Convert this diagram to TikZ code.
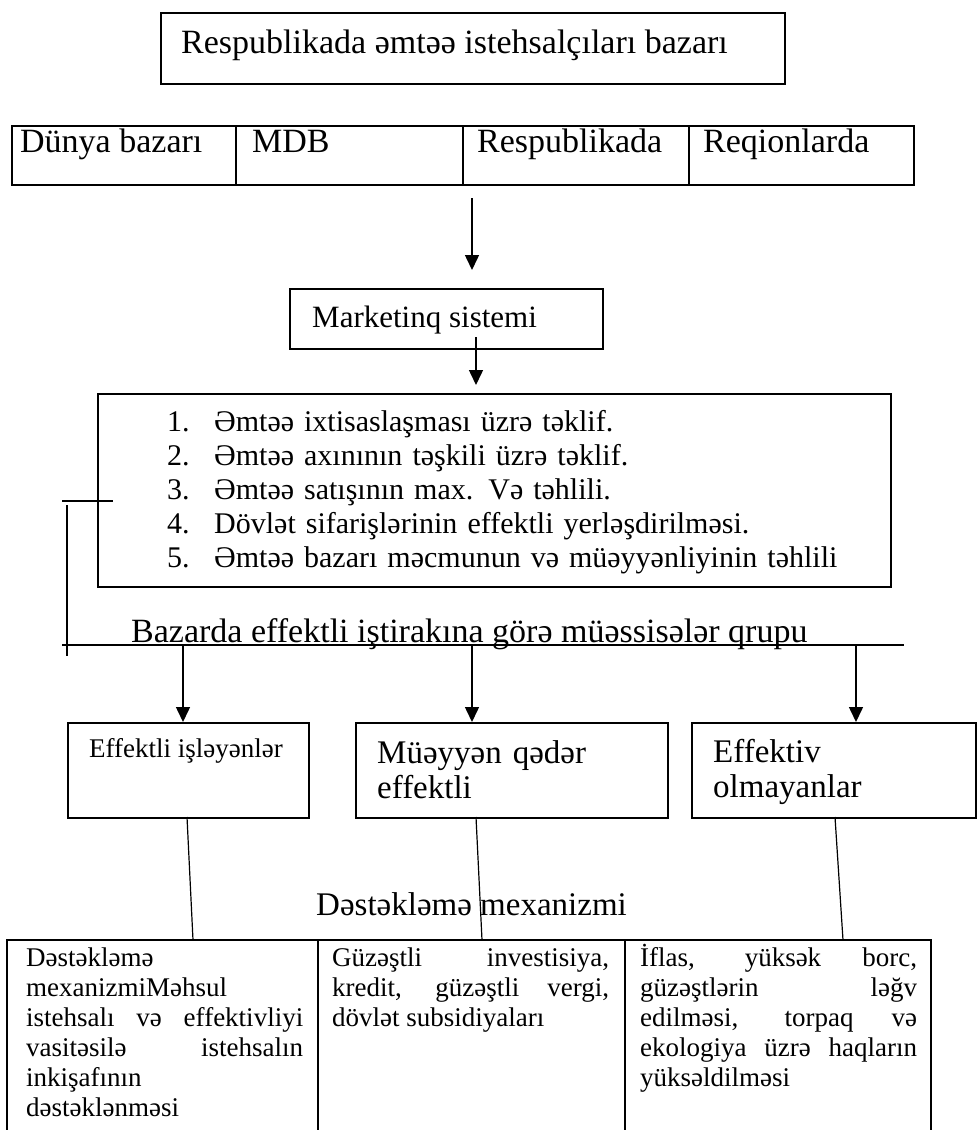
\documentclass[tikz,border=0pt]{standalone}
\usepackage{fontspec}
\setmainfont{Liberation Serif}
\usetikzlibrary{arrows.meta}
\newcommand{\fs}[2]{\fontsize{#1}{#2}\selectfont}
\tikzset{
  box/.style={draw, line width=1.5pt, anchor=north west, inner sep=0pt},
  txt/.style={anchor=base west, inner sep=0pt},
  arr/.style={line width=1.5pt, -{Triangle[length=15pt,width=14pt]}},
  ln/.style={line width=1.5pt},
}
\begin{document}
\begin{tikzpicture}[x=1pt,y=-1pt]
    \useasboundingbox (0,0) rectangle (977,1130);
    % top
    \node[box, minimum width=624pt, minimum height=71pt] (bazar) at (160,12) {};
    \node[txt, font=\fs{34}{40}] (bazartxt) at (181,53) {Respublikada əmtəə istehsalçıları bazarı};
    % row of markets
    \node[box, minimum width=224pt, minimum height=59pt] (dunya) at (11,125) {};
    \node[box, minimum width=227pt, minimum height=59pt] (mdb) at (235,125) {};
    \node[box, minimum width=226pt, minimum height=59pt] (resp) at (462,125) {};
    \node[box, minimum width=225pt, minimum height=59pt] (reg) at (688,125) {};
    \node[txt, font=\fs{34}{38}] (dunyatxt) at (20,152) {Dünya bazarı};
    \node[txt, font=\fs{34}{38}] (mdbtxt) at (252,152) {MDB};
    \node[txt, font=\fs{34}{38}] (resptxt) at (477,152) {Respublikada};
    \node[txt, font=\fs{34}{38}] (regtxt) at (703,152) {Reqionlarda};
    \draw (472,198) coordinate (a1) (472,270) coordinate (a2);
    \draw[arr] (a1)--(a2);
    % marketing
    \node[box, minimum width=313pt, minimum height=60pt] (mark) at (289,288) {};
    \node[txt, font=\fs{31}{35}] (marktxt) at (312,327) {Marketinq sistemi};
    \draw (476,337) coordinate (b1) (476,385) coordinate (b2);
    \draw[arr] (b1)--(b2);
    % list
    \node[box, minimum width=793pt, minimum height=193pt] (list) at (97,393) {};
    \node[txt, font=\fs{30}{34}, text width=700pt, align=left] (listtxt) at (167,431) {%
      \makebox[47pt][l]{1.}Əmtəə ixtisaslaşması üzrə təklif.\\
      \makebox[47pt][l]{2.}Əmtəə axınının təşkili üzrə təklif.\\
      \makebox[47pt][l]{3.}Əmtəə satışının max. Və təhlili.\\
      \makebox[47pt][l]{4.}Dövlət sifarişlərinin effektli yerləşdirilməsi.\\
      \makebox[47pt][l]{5.}Əmtəə bazarı məcmunun və müəyyənliyinin təhlili};
    % bracket and group line
    \draw (62,501) coordinate (k1) (113,501) coordinate (k2);
    \draw (67,505) coordinate (k3) (67,656) coordinate (k4);
    \draw (62,645) coordinate (g1) (904,645) coordinate (g2);
    \draw[ln] (k1)--(k2);
    \draw[ln] (k3)--(k4);
    \draw[ln] (g1)--(g2);
    \node[txt, font=\fs{34}{38}] (grup) at (131,642) {Bazarda effektli iştirakına görə müəssisələr qrupu};
    % groups
    \node[box, minimum width=241pt, minimum height=95pt] (eff) at (67,722) {};
    \node[box, minimum width=312pt, minimum height=95pt] (orta) at (355,722) {};
    \node[box, minimum width=284pt, minimum height=95pt] (zeif) at (691,722) {};
    \node[txt, font=\fs{27}{30}] (efftxt) at (89,757) {Effektli işləyənlər};
    \node[txt, font=\fs{33}{35}, text width=270pt, align=left] (ortatxt) at (377,763) {Müəyyən qədər\\effektli};
    \node[txt, font=\fs{33}{35}, text width=250pt, align=left] (zeiftxt) at (713,762) {Effektiv\\olmayanlar};
    \draw (183,645) coordinate (p1) (472,645) coordinate (p2) (856,645) coordinate (p3);
    \draw[arr] (p1)--(eff.north -| p1);
    \draw[arr] (p2)--(orta.north -| p2);
    \draw[arr] (p3)--(zeif.north -| p3);
    % support table
    \node[txt, font=\fs{33}{35}] (mexanizm) at (316,915) {Dəstəkləmə mexanizmi};
    \draw (7,1130) coordinate (t1) (7,940) coordinate (t2) (931,940) coordinate (t3) (931,1130) coordinate (t4);
    \draw (318,940) coordinate (d1) (318,1130) coordinate (d2) (625,940) coordinate (d3) (625,1130) coordinate (d4);
    \draw[ln] (t1)--(t2)--(t3)--(t4);
    \draw[ln] (d1)--(d2);
    \draw[ln] (d3)--(d4);
    \draw (187,817) coordinate (q1) (193,940) coordinate (q2);
    \draw (476,817) coordinate (q3) (482,940) coordinate (q4);
    \draw (835,817) coordinate (q5) (843,940) coordinate (q6);
    \draw[line width=1.2pt] (q1)--(q2);
    \draw[line width=1.2pt] (q3)--(q4);
    \draw[line width=1.2pt] (q5)--(q6);
    \node[txt, font=\fs{27}{30}, text width=277pt, align=justify] (col1) at (26,966) {%
      Dəstəkləmə\linebreak mexanizmiMəhsul\linebreak istehsalı və effektivliyi\linebreak
      vasitəsilə istehsalın\linebreak inkişafının\linebreak dəstəklənməsi};
    \node[txt, font=\fs{27}{30}, text width=277pt, align=justify] (col2) at (332,966) {%
      Güzəştli investisiya,\linebreak kredit, güzəştli vergi,\linebreak dövlət subsidiyaları};
    \node[txt, font=\fs{27}{30}, text width=277pt, align=justify] (col3) at (640,966) {%
      İflas, yüksək borc,\linebreak güzəştlərin ləğv\linebreak edilməsi, torpaq və\linebreak
      ekologiya üzrə haqların\linebreak yüksəldilməsi};
\end{tikzpicture}
\end{document}
